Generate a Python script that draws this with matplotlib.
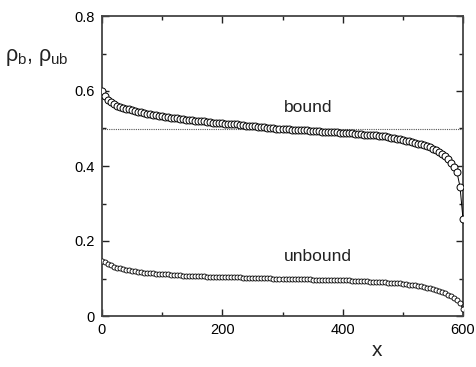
import matplotlib
matplotlib.use("Agg")
import matplotlib.pyplot as plt
from matplotlib.ticker import MultipleLocator, FixedLocator

plt.rcParams['font.family'] = ['Liberation Sans', 'DejaVu Sans']
plt.rcParams['mathtext.fontset'] = 'custom'
plt.rcParams['mathtext.rm'] = 'Liberation Sans'
plt.rcParams['mathtext.it'] = 'Liberation Sans'
plt.rcParams['mathtext.bf'] = 'Liberation Sans:bold'

x = list(range(0, 601, 5))

bound = [
    0.600, 0.586, 0.577, 0.570, 0.565, 0.561, 0.558, 0.555, 0.553, 0.551,
    0.549, 0.547, 0.545, 0.543, 0.541, 0.539, 0.538, 0.537, 0.535, 0.534,
    0.533, 0.532, 0.530, 0.529, 0.528, 0.527, 0.526, 0.525, 0.524, 0.523,
    0.522, 0.521, 0.520, 0.519, 0.519, 0.518, 0.517, 0.516, 0.515, 0.515,
    0.514, 0.513, 0.513, 0.512, 0.511, 0.511, 0.510, 0.509, 0.508, 0.508,
    0.507, 0.506, 0.505, 0.504, 0.503, 0.502, 0.501, 0.501, 0.500, 0.499,
    0.499, 0.498, 0.498, 0.497, 0.497, 0.496, 0.496, 0.495, 0.495, 0.494,
    0.494, 0.493, 0.493, 0.492, 0.492, 0.491, 0.491, 0.490, 0.490, 0.489,
    0.489, 0.488, 0.488, 0.487, 0.486, 0.486, 0.485, 0.484, 0.484, 0.483,
    0.482, 0.482, 0.481, 0.480, 0.479, 0.478, 0.476, 0.475, 0.473, 0.472,
    0.470, 0.468, 0.466, 0.464, 0.462, 0.460, 0.458, 0.455, 0.453, 0.450,
    0.446, 0.442, 0.437, 0.432, 0.426, 0.418, 0.409, 0.398, 0.383, 0.345,
    0.259,
]

unbound = [
    0.148, 0.143, 0.139, 0.135, 0.132, 0.129, 0.127, 0.125, 0.123, 0.122,
    0.120, 0.119, 0.118, 0.117, 0.116, 0.115, 0.114, 0.114, 0.113, 0.112,
    0.112, 0.111, 0.111, 0.110, 0.110, 0.109, 0.109, 0.108, 0.108, 0.108,
    0.107, 0.107, 0.106, 0.106, 0.106, 0.105, 0.105, 0.105, 0.104, 0.104,
    0.104, 0.104, 0.104, 0.103, 0.103, 0.103, 0.103, 0.102, 0.102, 0.102,
    0.102, 0.102, 0.101, 0.101, 0.101, 0.101, 0.101, 0.100, 0.100, 0.100,
    0.100, 0.100, 0.099, 0.099, 0.099, 0.099, 0.098, 0.098, 0.098, 0.098,
    0.097, 0.097, 0.097, 0.097, 0.097, 0.096, 0.096, 0.096, 0.096, 0.096,
    0.095, 0.095, 0.095, 0.094, 0.094, 0.094, 0.093, 0.093, 0.093, 0.092,
    0.092, 0.091, 0.091, 0.090, 0.090, 0.089, 0.089, 0.088, 0.087, 0.087,
    0.086, 0.085, 0.084, 0.083, 0.082, 0.080, 0.079, 0.077, 0.076, 0.074,
    0.072, 0.070, 0.067, 0.064, 0.061, 0.057, 0.053, 0.048, 0.042, 0.034,
    0.018,
]

reference_level = 0.5
xticks = [0, 200, 400, 600]
yticks = [0, 0.2, 0.4, 0.6, 0.8]
ytick_labels = ["0", "0.2", "0.4", "0.6", "0.8"]

fig = plt.figure(figsize=(4.76, 3.67), dpi=100)
ax = fig.add_axes([102/476, 51/367, 361/476, 300/367])

ax.axhline(reference_level, color='#555555', lw=0.8, ls=(0, (1, 1)), zorder=1)
ax.plot(x, bound, '-', color='black', lw=0.7, marker='o', ms=5.0,
        mfc='white', mec='black', mew=0.7, zorder=3)
ax.plot(x, unbound, '-', color='black', lw=0.6, marker='o', ms=3.6,
        mfc='white', mec='black', mew=0.6, zorder=3)

ax.set_xlim(0, 600)
ax.set_ylim(0, 0.8)
ax.xaxis.set_major_locator(FixedLocator(xticks))
ax.xaxis.set_minor_locator(MultipleLocator(100))
ax.yaxis.set_major_locator(FixedLocator(yticks))
ax.yaxis.set_minor_locator(MultipleLocator(0.1))
ax.set_yticklabels(ytick_labels)
ax.tick_params(which='both', direction='in', top=True, right=True,
               labelsize=10.5, color='#222222', pad=5)
ax.tick_params(which='major', length=5, width=1.0)
ax.tick_params(which='minor', length=3, width=1.0)
for s in ax.spines.values():
    s.set_linewidth(1.3)
    s.set_color('#444444')

ax.text(302, 0.543, 'bound', fontsize=12.5, ha='left', va='baseline', color='#222222')
ax.text(302, 0.147, 'unbound', fontsize=12.5, ha='left', va='baseline', color='#222222')

fig.text(5/476, 1 - 58/367, r'$\rho_{\mathrm{b}}$, $\rho_{\mathrm{ub}}$', fontsize=15.5,
         ha='left', va='center', color='#222222')
fig.text(377/476, 1 - 350/367, 'x', fontsize=15, ha='center', va='center', color='#222222')

fig.savefig('out.png', dpi=100)
